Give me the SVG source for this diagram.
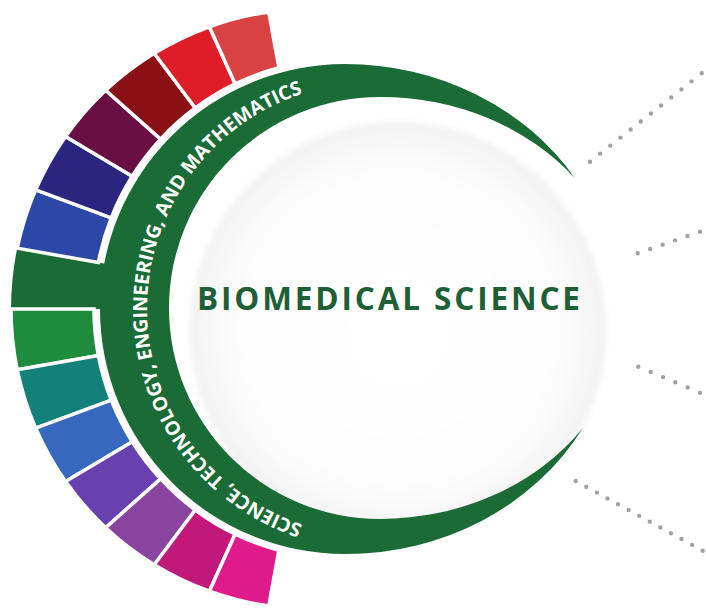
<svg xmlns="http://www.w3.org/2000/svg" width="706" height="611" viewBox="0 0 706 611">
  <style>
    .seg { stroke: #ffffff; stroke-width: 3.5; stroke-linejoin: miter; }
    .band { fill: #1b6b37; }
    .dots { fill: none; stroke: #a2a2a2; stroke-width: 4.4; stroke-linecap: round; }
    .title { font-family: "Open Sans", "Liberation Sans", sans-serif; font-weight: 700; fill: #1e5f36; }
    .arc-label { font-family: "Open Sans", "Liberation Sans", sans-serif; font-weight: 700; fill: #ffffff; }
  </style>
  <defs>
    <radialGradient id="discFill" cx="50%" cy="50%" r="50%">
      <stop offset="0" stop-color="#ffffff"/>
      <stop offset="0.75" stop-color="#fdfdfd"/>
      <stop offset="0.95" stop-color="#f5f5f5"/>
      <stop offset="1" stop-color="#f1f1f1"/>
    </radialGradient>
    <filter id="soft" x="-10%" y="-10%" width="120%" height="120%">
      <feGaussianBlur stdDeviation="3"/>
    </filter>
    <!-- baseline circle for the curved label, running clockwise bottom -> left -> top -->
    <path id="bandArc" d="M 374,536 A 227 227 0 0 1 147,309 A 227 227 0 0 1 374,82"/>
  </defs>

  <rect width="706" height="611" fill="#ffffff"/>

  <!-- central disc -->
  <g id="hub">
    <circle cx="398" cy="330" r="208" fill="url(#discFill)" filter="url(#soft)"/>
  </g>

  <!-- green crescent band with the curved label -->
  <g id="stem-band">
    <!-- tab joining the band to the outer ring -->
    <path class="band" d="M 11,309 A 300 300 0 0 1 17.23,248.17 L 125,267.3 L 125,309 Z"/>
    <path class="band" d="M 574.8,178
      A 272 245 0 0 0 345,64
      A 245 245 0 0 0 100,309
      A 245 245 0 0 0 345,554
      A 272 245 0 0 0 582.8,428
      A 247 211 0 0 1 380,519
      A 211 211 0 0 1 169,308
      A 211 211 0 0 1 380,97
      A 247 211 0 0 1 574.8,178 Z"/>
    <text class="arc-label" font-size="19.5" letter-spacing="-0.05">
      <textPath href="#bandArc" startOffset="50%" text-anchor="middle">SCIENCE, TECHNOLOGY, ENGINEERING, AND MATHEMATICS</textPath>
    </text>
  </g>

  <!-- outer ring segments, upper half -->
  <g id="seg-blue-upper"><path class="seg" fill="#2d47a7" d="M 17.23,248.17 A 300 300 0 0 1 35.67,189.85 L 111.23,217.78 A 250 250 0 0 0 98.35,262.58 Z"/></g>
  <g id="seg-navy"><path class="seg" fill="#2a2680" d="M 35.67,189.85 A 300 300 0 0 1 65.55,136.50 L 132.20,176.19 A 250 250 0 0 0 111.23,217.78 Z"/></g>
  <g id="seg-plum"><path class="seg" fill="#680e43" d="M 65.55,136.50 A 300 300 0 0 1 105.63,90.31 L 160.57,139.14 A 250 250 0 0 0 132.20,176.19 Z"/></g>
  <g id="seg-darkred"><path class="seg" fill="#8b1016" d="M 105.63,90.31 A 300 300 0 0 1 154.25,53.21 L 195.29,108.03 A 250 250 0 0 0 160.57,139.14 Z"/></g>
  <g id="seg-red"><path class="seg" fill="#df1d28" d="M 154.25,53.21 A 300 300 0 0 1 209.38,26.74 L 235.19,83.92 A 250 250 0 0 0 195.29,108.03 Z"/></g>
  <g id="seg-lightred"><path class="seg" fill="#d84242" d="M 209.38,26.74 A 300 300 0 0 1 268.73,11.99 L 278.87,67.63 A 250 250 0 0 0 235.19,83.92 Z"/></g>

  <!-- outer ring segments, lower half -->
  <g id="seg-green"><path class="seg" fill="#1f8b3d" d="M 11,309 A 300 300 0 0 0 17.23,369.83 L 98.35,355.42 A 250 250 0 0 1 94,309 Z"/></g>
  <g id="seg-teal"><path class="seg" fill="#13817a" d="M 17.23,369.83 A 300 300 0 0 0 35.67,428.15 L 111.23,400.22 A 250 250 0 0 1 98.35,355.42 Z"/></g>
  <g id="seg-blue-lower"><path class="seg" fill="#3668be" d="M 35.67,428.15 A 300 300 0 0 0 65.55,481.50 L 132.20,441.81 A 250 250 0 0 1 111.23,400.22 Z"/></g>
  <g id="seg-purple"><path class="seg" fill="#6941ae" d="M 65.55,481.50 A 300 300 0 0 0 105.63,527.69 L 160.57,478.86 A 250 250 0 0 1 132.20,441.81 Z"/></g>
  <g id="seg-violet"><path class="seg" fill="#89449f" d="M 105.63,527.69 A 300 300 0 0 0 154.25,564.79 L 195.29,509.97 A 250 250 0 0 1 160.57,478.86 Z"/></g>
  <g id="seg-magenta"><path class="seg" fill="#c1187a" d="M 154.25,564.79 A 300 300 0 0 0 209.38,591.26 L 235.19,534.08 A 250 250 0 0 1 195.29,509.97 Z"/></g>
  <g id="seg-pink"><path class="seg" fill="#df1b8b" d="M 209.38,591.26 A 300 300 0 0 0 268.73,606.01 L 278.87,550.37 A 250 250 0 0 1 235.19,534.08 Z"/></g>

  <g id="title">
    <text class="title" x="197" y="310" font-size="31.5" textLength="383" lengthAdjust="spacing">BIOMEDICAL SCIENCE</text>
  </g>

  <!-- dotted leader lines -->
  <g id="connectors">
    <line class="dots" stroke-dasharray="0 12.95" x1="590" y1="161.7" x2="702.5" y2="72.7"/>
    <line class="dots" stroke-dasharray="0 13.19" x1="637.7" y1="253.3" x2="700.95" y2="231.37"/>
    <line class="dots" stroke-dasharray="0 13.39" x1="638.3" y1="366.7" x2="700.92" y2="393.09"/>
    <line class="dots" stroke-dasharray="0 12.07" x1="575.7" y1="481" x2="703.58" y2="551.18"/>
  </g>
</svg>
